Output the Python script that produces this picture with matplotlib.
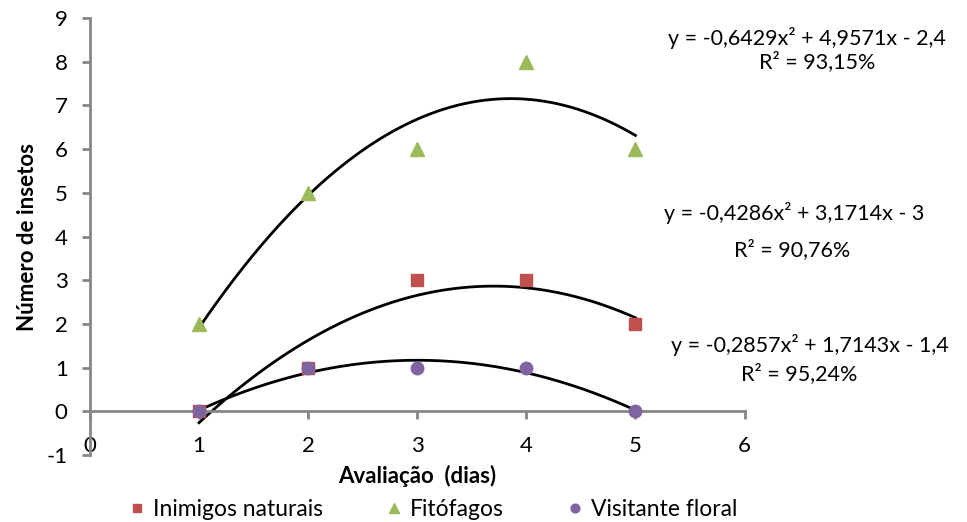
import numpy as np
import matplotlib.pyplot as plt

plt.rcParams['font.family'] = ['Lato', 'DejaVu Sans']
plt.rcParams['axes.unicode_minus'] = False

# Dados
dias = [1, 2, 3, 4, 5]
inimigos = [0, 1, 3, 3, 2]
fitofagos = [2, 5, 6, 8, 6]
visitante = [0, 1, 1, 1, 0]

eq_inimigos = ["y = -0,4286x² + 3,1714x - 3", "R² = 90,76%"]
eq_fitofagos = ["y = -0,6429x² + 4,9571x - 2,4", "R² = 93,15%"]
eq_visitante = ["y = -0,2857x² + 1,7143x - 1,4", "R² = 95,24%"]

c_ini = "#C0504D"
c_fit = "#9BBB59"
c_vis = "#8064A2"
gray = "#868686"

fig = plt.figure(figsize=(9.67, 5.22), dpi=100)
ax = fig.add_axes([0.093, 0.128, 0.677, 0.8375])

# curvas de tendencia (polinomio grau 2)
xs = np.linspace(1, 5, 200)
for ys in (fitofagos, inimigos, visitante):
    poly = np.polyfit(dias, ys, 2)
    ax.plot(xs, np.polyval(poly, xs), color="black", lw=2, zorder=2)

ax.plot(dias, inimigos, "s", color=c_ini, ms=9, label="Inimigos naturais", zorder=3)
ax.plot(dias, fitofagos, "^", color=c_fit, ms=10, label="Fitófagos", zorder=3)
ax.plot(dias, visitante, "o", color=c_vis, ms=9, label="Visitante floral", zorder=4)

ax.set_xlim(0, 6)
ax.set_ylim(-1, 9)
ax.set_xticks(range(0, 7))
ax.set_yticks(range(-1, 10))

ax.spines["top"].set_visible(False)
ax.spines["right"].set_visible(False)
ax.spines["bottom"].set_position(("data", 0))
for s in ("left", "bottom"):
    ax.spines[s].set_color(gray)
    ax.spines[s].set_linewidth(2)
ax.tick_params(axis="both", colors=gray, width=2, length=6, labelsize=16,
               labelcolor="black")
ax.tick_params(axis="x", pad=12)
ax.tick_params(axis="y", pad=10)

ax.set_xlabel("Avaliação  (dias)", fontsize=16, fontweight="bold")
ax.xaxis.set_label_coords(0.5, -0.022)
ax.set_ylabel("Número de insetos", fontsize=16, fontweight="bold")
ax.yaxis.set_label_coords(-0.08, 0.5)

# equacoes
fs = 15.5
fig.text(0.834, 0.927, eq_fitofagos[0], ha="center", va="center", fontsize=fs)
fig.text(0.845, 0.881, eq_fitofagos[1], ha="center", va="center", fontsize=fs)
fig.text(0.821, 0.592, eq_inimigos[0], ha="center", va="center", fontsize=fs)
fig.text(0.819, 0.521, eq_inimigos[1], ha="center", va="center", fontsize=fs)
fig.text(0.838, 0.339, eq_visitante[0], ha="center", va="center", fontsize=fs)
fig.text(0.826, 0.285, eq_visitante[1], ha="center", va="center", fontsize=fs)

fig.legend(loc="lower center", bbox_to_anchor=(0.445, -0.035), ncol=3,
           frameon=False, fontsize=16.5, handletextpad=0.1, columnspacing=2.5,
           markerscale=0.7, handlelength=1.2)

fig.savefig("out.png", dpi=100)
